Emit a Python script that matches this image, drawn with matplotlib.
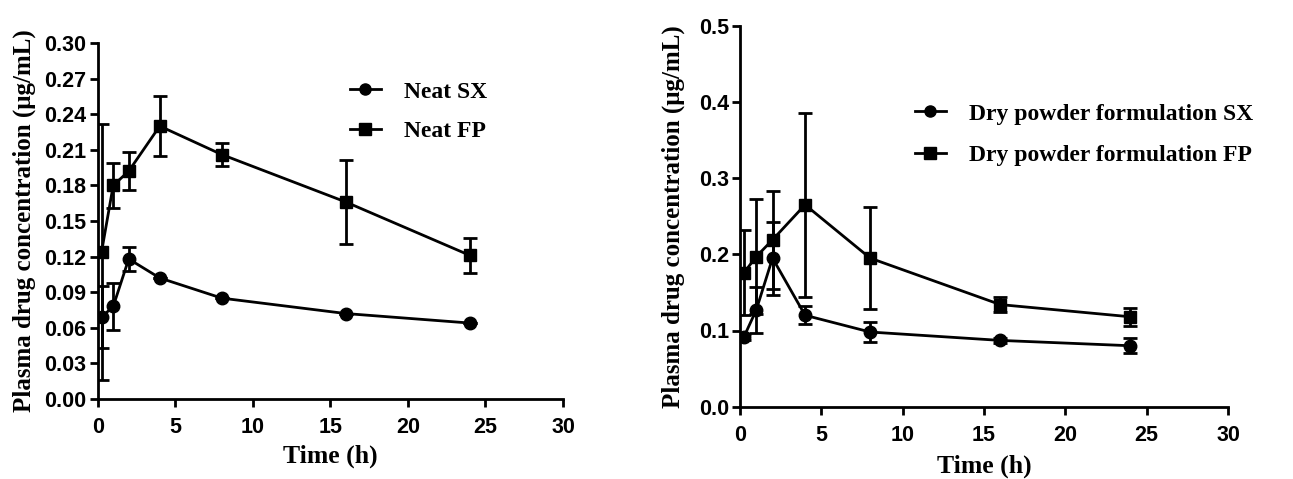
import matplotlib
matplotlib.use("Agg")
import matplotlib.pyplot as plt
from matplotlib.lines import Line2D

# ---- data ----
time_h = [0.25, 1, 2, 4, 8, 16, 24]

neat_sx = [0.069, 0.078, 0.118, 0.102, 0.085, 0.072, 0.064]
neat_sx_err = [0.026, 0.020, 0.010, 0.0, 0.0, 0.0, 0.0]
neat_fp = [0.124, 0.180, 0.192, 0.230, 0.206, 0.166, 0.121]
neat_fp_err = [0.108, 0.019, 0.016, 0.025, 0.010, 0.035, 0.015]

dry_sx = [0.092, 0.127, 0.195, 0.120, 0.098, 0.087, 0.080]
dry_sx_err = [0.004, 0.030, 0.048, 0.012, 0.013, 0.003, 0.010]
dry_fp = [0.176, 0.197, 0.219, 0.265, 0.195, 0.134, 0.118]
dry_fp_err = [0.056, 0.075, 0.064, 0.121, 0.067, 0.010, 0.012]

left_yticks = [0.00, 0.03, 0.06, 0.09, 0.12, 0.15, 0.18, 0.21, 0.24, 0.27, 0.30]
right_yticks = [0.0, 0.1, 0.2, 0.3, 0.4, 0.5]
xticks = [0, 5, 10, 15, 20, 25, 30]

W, H = 1293, 479
fig = plt.figure(figsize=(W / 100, H / 100), dpi=100)

def px_axes(x0, y_top, x1, y_bot):
    return fig.add_axes([x0 / W, 1 - y_bot / H, (x1 - x0) / W, (y_bot - y_top) / H])

serif = "Liberation Serif"
sans = "Liberation Sans"

def style(ax, yticks, fmt, xlabel_pad, ylabel_pad):
    for s in ["top", "right"]:
        ax.spines[s].set_visible(False)
    for s in ["left", "bottom"]:
        ax.spines[s].set_linewidth(2.0)
    ax.set_xlim(0, 30)
    ax.set_xticks(xticks)
    ax.set_yticks(yticks)
    ax.set_yticklabels([fmt.format(v) for v in yticks])
    ax.tick_params(direction="out", width=2.0, length=6, labelsize=15.5)
    ax.tick_params(axis="x", pad=7)
    ax.tick_params(axis="y", pad=2)
    for lab in ax.get_xticklabels() + ax.get_yticklabels():
        lab.set_fontfamily(sans)
        lab.set_fontweight("bold")
    ax.set_xlabel("Time (h)", fontfamily=serif, fontweight="bold", fontsize=18.5, labelpad=xlabel_pad)
    ax.set_ylabel("Plasma drug concentration (\u03bcg/mL)", fontfamily=serif, fontweight="bold",
                  fontsize=18, labelpad=ylabel_pad)

def draw(ax, y_sx, e_sx, y_fp, e_fp, lab_sx, lab_fp, anchor, spacing):
    kw = dict(color="black", lw=2.0, elinewidth=2.0, capsize=5, capthick=2.0, markersize=9)
    ax.errorbar(time_h, y_sx, yerr=e_sx, marker="o", **kw)
    ax.errorbar(time_h, y_fp, yerr=e_fp, marker="s", **kw)
    handles = [Line2D([], [], color="black", lw=2.0, marker="o", markersize=8),
               Line2D([], [], color="black", lw=2.0, marker="s", markersize=8)]
    ax.legend(handles, [lab_sx, lab_fp], loc="upper left",
              bbox_to_anchor=(anchor[0] / W, 1 - anchor[1] / H), bbox_transform=fig.transFigure,
              frameon=False, prop={"family": serif, "weight": "bold", "size": 17},
              handlelength=1.3, handletextpad=1.0, labelspacing=spacing, borderaxespad=0, borderpad=0)

# left panel
ax1 = px_axes(97.7, 43, 563, 399)
ax1.set_ylim(0, 0.30)
draw(ax1, neat_sx, neat_sx_err, neat_fp, neat_fp_err, "Neat SX", "Neat FP", (350, 81), 0.76)
style(ax1, left_yticks, "{:.2f}", 5, 6)

# right panel
ax2 = px_axes(740, 25.7, 1228, 406.7)
ax2.set_ylim(0, 0.5)
draw(ax2, dry_sx, dry_sx_err, dry_fp, dry_fp_err,
     "Dry powder formulation SX", "Dry powder formulation FP", (915, 103), 0.85)
style(ax2, right_yticks, "{:.1f}", 6, 10)

fig.savefig("out.png", dpi=100)
